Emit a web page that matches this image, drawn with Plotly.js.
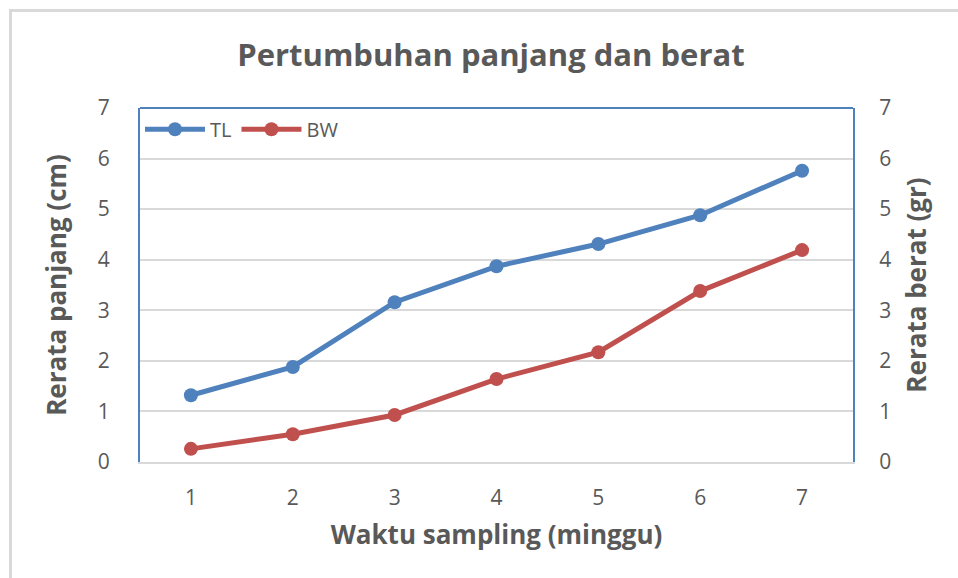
<!DOCTYPE html>
<html>
<head>
<meta charset="utf-8">
<script src="https://cdn.plot.ly/plotly-3.0.1.min.js"></script>
<style>
  html, body { margin: 0; padding: 0; background: #fff; }
  #wrap { position: relative; width: 958px; height: 578px; overflow: hidden; }
  #frame { position: absolute; left: 9px; top: 9px; width: 960px; height: 580px;
           border-top: 3px solid #d9d9d9; border-left: 3px solid #d9d9d9; pointer-events: none; z-index: 5; }
  #chart { position: absolute; left: 0; top: 0; width: 958px; height: 578px; }
</style>
</head>
<body>
<div id="wrap">
  <div id="chart"></div>
  <div id="frame"></div>
</div>
<script>
const weeks = ['1', '2', '3', '4', '5', '6', '7'];
const tlValues = [1.32, 1.88, 3.16, 3.87, 4.31, 4.88, 5.76];
const bwValues = [0.26, 0.55, 0.93, 1.64, 2.17, 3.38, 4.19];
const yTicks = [0, 1, 2, 3, 4, 5, 6, 7];

const fontFam = '"Open Sans", "Noto Sans", sans-serif';
const textCol = '#595959';
const blue = '#4F81BD';
const red = '#C0504D';

const traces = [
  {
    x: weeks, y: tlValues, name: 'TL', type: 'scatter', mode: 'lines+markers',
    line: { color: blue, width: 5 },
    marker: { color: blue, size: 14 }
  },
  {
    x: weeks, y: bwValues, name: 'BW', type: 'scatter', mode: 'lines+markers',
    yaxis: 'y2',
    line: { color: red, width: 5 },
    marker: { color: red, size: 14 }
  }
];

const layout = {
  width: 958, height: 578,
  margin: { l: 140, r: 105, t: 108, b: 116 },
  paper_bgcolor: '#ffffff', plot_bgcolor: '#ffffff',
  font: { family: fontFam, color: textCol },
  title: {
    text: '<b>Pertumbuhan panjang dan berat</b>',
    font: { family: fontFam, size: 31, color: textCol },
    x: 0.5125, xanchor: 'center', y: 0.905, yanchor: 'middle'
  },
  showlegend: true,
  legend: {
    orientation: 'h', x: 0.0, xanchor: 'left', y: 0.995, yanchor: 'top',
    bgcolor: 'rgba(255,255,255,0)', font: { size: 20, color: textCol },
    itemwidth: 60, tracegroupgap: 0
  },
  xaxis: {
    type: 'category', range: [-0.5, 6.5],
    showgrid: false, zeroline: false,
    showline: true, linecolor: '#d9d9d9', linewidth: 2,
    ticks: '', tickfont: { size: 21, color: textCol }, ticklabelstandoff: 16,
    title: { text: '<b>Waktu sampling (minggu)</b>', font: { size: 26, color: textCol }, standoff: 16 }
  },
  yaxis: {
    range: [0, 7], tickvals: yTicks, ticktext: yTicks.map(String),
    showgrid: true, gridcolor: '#d9d9d9', gridwidth: 2, zeroline: false,
    showline: true, linecolor: blue, linewidth: 2,
    ticks: '', tickfont: { size: 21, color: textCol }, ticklabelstandoff: 24,
    title: { text: '<b>Rerata panjang (cm)</b>', font: { size: 26, color: textCol }, standoff: 24 }
  },
  yaxis2: {
    overlaying: 'y', side: 'right',
    range: [0, 7], tickvals: yTicks, ticktext: yTicks.map(String),
    showgrid: false, zeroline: false,
    showline: true, linecolor: blue, linewidth: 2,
    ticks: '', tickfont: { size: 21, color: textCol }, ticklabelstandoff: 20,
    title: { text: '<b>Rerata berat (gr)</b>', font: { size: 26, color: textCol }, standoff: 18 }
  },
  shapes: [
    { type: 'line', xref: 'paper', yref: 'paper', x0: 0, x1: 1, y0: 1, y1: 1,
      line: { color: blue, width: 2 } }
  ]
};

Plotly.newPlot('chart', traces, layout, { staticPlot: true, displayModeBar: false });
</script>
</body>
</html>
